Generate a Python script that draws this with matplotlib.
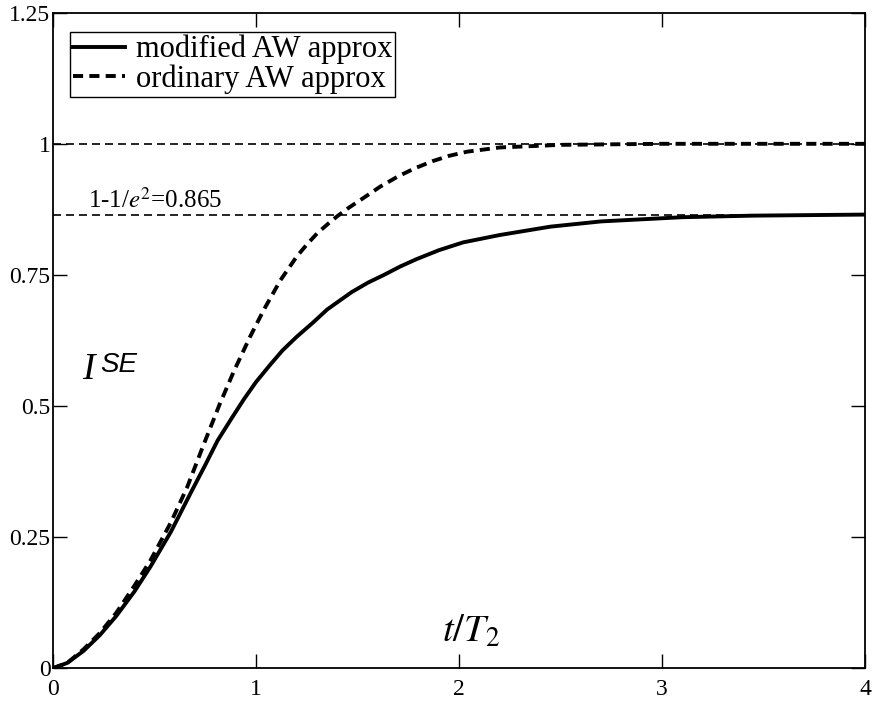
import matplotlib
matplotlib.use("Agg")
import matplotlib.pyplot as plt

plt.rcParams['font.family'] = ['Liberation Serif', 'DejaVu Serif']
plt.rcParams['mathtext.fontset'] = 'stix'

# modified AW approx (solid)
t_mod = [0, 0.07, 0.15, 0.23, 0.31, 0.4, 0.48, 0.58, 0.68, 0.75, 0.81, 0.88, 0.94, 1.0,
         1.07, 1.13, 1.2, 1.28, 1.35, 1.47, 1.55, 1.63, 1.71, 1.79, 1.9, 2.02, 2.2,
         2.45, 2.7, 3.1, 3.45, 4.0]
i_mod = [0, 0.01, 0.033, 0.063, 0.099, 0.146, 0.194, 0.26, 0.336, 0.388, 0.434, 0.477, 0.513,
         0.546, 0.579, 0.606, 0.632, 0.659, 0.684, 0.717, 0.735, 0.75, 0.766, 0.78, 0.797,
         0.812, 0.826, 0.842, 0.852, 0.86, 0.863, 0.865]

# ordinary AW approx (dashed)
t_ord = [0, 0.07, 0.15, 0.23, 0.31, 0.4, 0.48, 0.58, 0.66, 0.74, 0.82, 0.89, 0.97, 1.04,
         1.12, 1.2, 1.25, 1.3, 1.35, 1.4, 1.46, 1.53, 1.61, 1.7, 1.78, 1.87, 1.95, 2.04,
         2.2, 2.5, 3.0, 4.0]
i_ord = [0, 0.01, 0.036, 0.067, 0.105, 0.157, 0.206, 0.278, 0.345, 0.425, 0.503, 0.566, 0.632,
         0.685, 0.74, 0.785, 0.808, 0.829, 0.846, 0.862, 0.879, 0.897, 0.918, 0.938, 0.953,
         0.967, 0.977, 0.985, 0.993, 0.998, 1.0, 1.0]

ref_levels = [1.0, 0.865]
xticks = [0, 1, 2, 3, 4]
yticks = [0, 0.25, 0.5, 0.75, 1, 1.25]
ytick_labels = ['0', '0.25', '0.5', '0.75', '1', '1.25']

fig = plt.figure(figsize=(8.72, 7.07), dpi=100)
ax = fig.add_axes([0.061, 0.055, 0.931, 0.927])

for lev in ref_levels:
    ax.axhline(lev, color='black', linewidth=1.2, dashes=(4.8, 3.0))

ax.plot(t_mod, i_mod, color='black', linewidth=2.8, label='modified AW approx')
ax.plot(t_ord, i_ord, color='black', linewidth=2.8, dashes=(2.6, 1.6),
        label='ordinary AW approx')

ax.set_xlim(0, 4)
ax.set_ylim(0, 1.25)
ax.set_xticks(xticks)
ax.set_yticks(yticks)
ax.set_yticklabels(ytick_labels)
ax.tick_params(direction='in', length=10, width=1, top=True, right=True,
               labelsize=17, pad=2)
ax.tick_params(axis='x', pad=8)
for s in ax.spines.values():
    s.set_linewidth(1.3)

ax.text(0.17, 0.877, r'1-1/$e^2$=0.865', fontsize=18)
ax.text(2.06, 0.05, r'$t/T_2$', fontsize=28, ha='center')
ax.text(0.145, 0.551, 'I', fontsize=27, style='italic')
ax.text(0.23, 0.564, 'SE', fontsize=20, style='italic', family='Liberation Sans')

leg = ax.legend(loc='upper left', bbox_to_anchor=(0.021, 0.971), fontsize=22,
                frameon=True, fancybox=False, framealpha=1, edgecolor='black',
                handlelength=1.7, handletextpad=0.35, borderpad=0.1,
                labelspacing=0.0, borderaxespad=0)
leg.get_frame().set_linewidth(1.0)

fig.savefig('out.png', dpi=100)
